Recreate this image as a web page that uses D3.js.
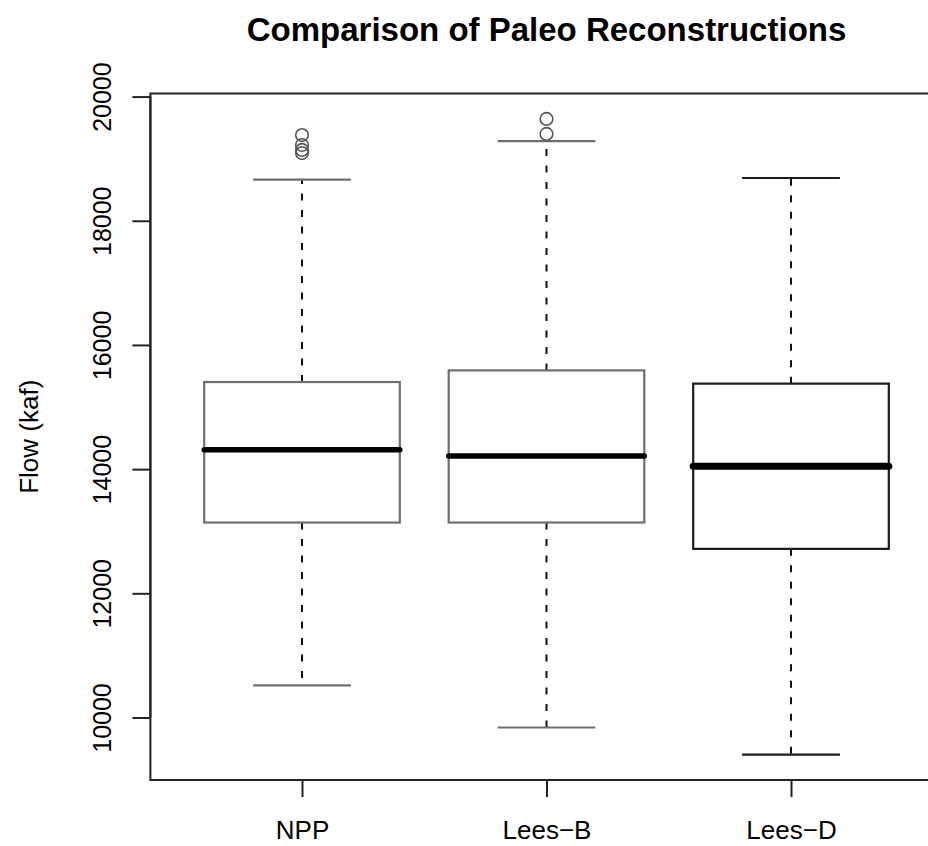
<!DOCTYPE html>
<html>
<head>
<meta charset="utf-8">
<script src="https://cdn.jsdelivr.net/npm/d3@7"></script>
<style>
  html, body { margin: 0; padding: 0; background: #fff; }
  svg { display: block; overflow: hidden; }
  text { font-family: "Liberation Sans", Arial, sans-serif; fill: #000; }
</style>
</head>
<body>
<svg id="chart" width="928" height="846"></svg>
<script>
// Five-number summaries of the three flow reconstructions (kaf)
const categories = ["NPP", "Lees-B", "Lees-D"];
const lowerWhisker = [10516, 9839, 9403];
const lowerHinge   = [13140, 13140, 12716];
const medians      = [14313, 14210, 14048];
const upperHinge   = [15403, 15590, 15377];
const upperWhisker = [18661, 19281, 18689];
const outliers     = [[19380, 19220, 19140, 19090], [19640, 19398], []];
const yTicks       = [10000, 12000, 14000, 16000, 18000, 20000];
const boxColors    = ["#6e6e6e", "#6e6e6e", "#1a1a1a"];
const medianWidths = [5.5, 5.5, 7];

const svg = d3.select("#chart");

// Axis ranges padded by 4% like base R graphics
const allVals = lowerWhisker.concat(upperWhisker, outliers.flat());
const yMin = d3.min(allVals), yMax = d3.max(allVals);
const yPad = (yMax - yMin) * 0.04;
const y = d3.scaleLinear().domain([yMin - yPad, yMax + yPad]).range([780, 93.5]);

const n = categories.length;
const xPad = n * 0.04;
const x = d3.scaleLinear().domain([0.5 - xPad, n + 0.5 + xPad]).range([150.4, 942.6]);

const boxW = 0.8;        // box width in category units
const stapleW = boxW / 2; // whisker cap width

const data = categories.map((c, i) => ({
  name: c, pos: i + 1,
  lw: lowerWhisker[i], q1: lowerHinge[i], med: medians[i],
  q3: upperHinge[i], uw: upperWhisker[i], out: outliers[i],
  color: boxColors[i], medW: medianWidths[i]
}));

// Title
svg.append("text")
  .attr("x", (x.range()[0] + x.range()[1]) / 2)
  .attr("y", 41)
  .attr("text-anchor", "middle")
  .style("font-size", "33px")
  .style("font-weight", "bold")
  .text("Comparison of Paleo Reconstructions");

// Y axis label
svg.append("text")
  .attr("transform", `translate(38, ${(y.range()[0] + y.range()[1]) / 2}) rotate(-90)`)
  .attr("text-anchor", "middle")
  .style("font-size", "26px")
  .text("Flow (kaf)");

const g = svg.append("g");

// Boxes
const box = g.selectAll("g.box").data(data).join("g").attr("class", "box");

// Dashed whiskers
box.append("line")
  .attr("x1", d => x(d.pos)).attr("x2", d => x(d.pos))
  .attr("y1", d => y(d.q3)).attr("y2", d => y(d.uw))
  .attr("stroke", "#111").attr("stroke-width", 2).attr("stroke-dasharray", "7,9.5");
box.append("line")
  .attr("x1", d => x(d.pos)).attr("x2", d => x(d.pos))
  .attr("y1", d => y(d.q1)).attr("y2", d => y(d.lw))
  .attr("stroke", "#111").attr("stroke-width", 2).attr("stroke-dasharray", "7,9.5");

// Whisker caps
["uw", "lw"].forEach(k => {
  box.append("line")
    .attr("x1", d => x(d.pos - stapleW / 2)).attr("x2", d => x(d.pos + stapleW / 2))
    .attr("y1", d => y(d[k])).attr("y2", d => y(d[k]))
    .attr("stroke", d => d.color).attr("stroke-width", 2.2);
});

// Box body
box.append("rect")
  .attr("x", d => x(d.pos - boxW / 2))
  .attr("width", d => x(d.pos + boxW / 2) - x(d.pos - boxW / 2))
  .attr("y", d => y(d.q3))
  .attr("height", d => y(d.q1) - y(d.q3))
  .attr("fill", "#fff")
  .attr("stroke", d => d.color).attr("stroke-width", 2.2);

// Median
box.append("line")
  .attr("x1", d => x(d.pos - boxW / 2)).attr("x2", d => x(d.pos + boxW / 2))
  .attr("y1", d => y(d.med)).attr("y2", d => y(d.med))
  .attr("stroke", "#000").attr("stroke-width", d => d.medW).attr("stroke-linecap", "round");

// Outliers
box.selectAll("circle").data(d => d.out.map(v => ({ v, pos: d.pos }))).join("circle")
  .attr("cx", d => x(d.pos)).attr("cy", d => y(d.v)).attr("r", 6.3)
  .attr("fill", "none").attr("stroke", "#555").attr("stroke-width", 1.6);

// Plot frame
svg.append("rect")
  .attr("x", x.range()[0]).attr("y", y.range()[1])
  .attr("width", x.range()[1] - x.range()[0]).attr("height", y.range()[0] - y.range()[1])
  .attr("fill", "none").attr("stroke", "#222").attr("stroke-width", 2);

// Y axis
const yAxis = svg.append("g")
  .attr("transform", `translate(${x.range()[0]},0)`)
  .call(d3.axisLeft(y).tickValues(yTicks).tickSize(18).tickPadding(0).tickFormat(d3.format("d")));
yAxis.select(".domain")
  .attr("d", `M0,${y(yTicks[0])}V${y(yTicks[yTicks.length - 1])}`)
  .attr("stroke", "#222").attr("stroke-width", 2);
yAxis.selectAll(".tick line").attr("stroke", "#222").attr("stroke-width", 2);
yAxis.selectAll(".tick text")
  .attr("x", 0).attr("dy", null)
  .attr("transform", "translate(-48,0) rotate(-90)")
  .attr("text-anchor", "middle")
  .attr("dominant-baseline", "central")
  .style("font-size", "25px")
  .style("font-family", "'Liberation Sans', Arial, sans-serif")
  .attr("fill", "#000");

// X axis
const xAxis = svg.append("g")
  .attr("transform", `translate(0,${y.range()[0]})`)
  .call(d3.axisBottom(x).tickValues(data.map(d => d.pos)).tickSize(17).tickPadding(24)
    .tickFormat(v => categories[v - 1].replace("-", "\u2212")));
xAxis.select(".domain").remove();
xAxis.selectAll(".tick line").attr("stroke", "#222").attr("stroke-width", 2);
xAxis.selectAll(".tick text")
  .style("font-size", "26px")
  .style("font-family", "'Liberation Sans', Arial, sans-serif")
  .attr("fill", "#000");
</script>
</body>
</html>
